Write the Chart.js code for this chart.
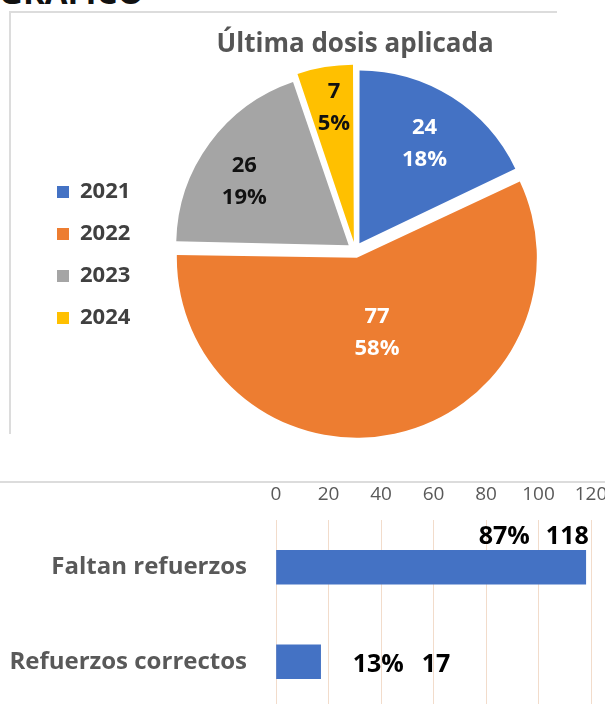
<!DOCTYPE html>
<html><head><meta charset="utf-8">
<script src="https://cdn.jsdelivr.net/npm/chart.js@4.4.1/dist/chart.umd.min.js"></script>
<style>
html,body{margin:0;padding:0;width:605px;height:704px;overflow:hidden;background:#fff;font-family:"Open Sans",sans-serif;}
#hdr{position:absolute;left:-1px;top:-31px;font:bold 33px "Open Sans";color:#111;white-space:nowrap;}
#frame{position:absolute;left:9px;top:11px;width:546px;height:421px;border-left:2px solid #dcdcdc;border-top:2px solid #dcdcdc;}
#pie{position:absolute;left:9px;top:11px;}
#sep{position:absolute;left:0;top:481px;width:605px;height:0;border-top:2px solid #dcdcdc;}
#bar{position:absolute;left:0;top:483px;}
</style></head>
<body>
<div id="hdr">GRÁFICO</div>
<div id="frame"></div>
<canvas id="pie" width="712" height="432"></canvas>
<div id="sep"></div>
<canvas id="bar" width="605" height="226"></canvas>
<script>
// ---- data: pie ----
const years = ['2021', '2022', '2023', '2024'];
const doses = [24, 77, 26, 7];
const dosePct = ['18%', '58%', '19%', '5%'];
// ---- data: bars ----
const groups = ['Faltan refuerzos', 'Refuerzos correctos'];
const counts = [118, 17];
const countPct = ['87%', '13%'];
const xTicks = [0, 20, 40, 60, 80, 100, 120];

// ---- styles ----
const pieColors = ['#4472C4', '#ED7D31', '#A5A5A5', '#FFC000'];
const labelInk = ['#ffffff', '#ffffff', '#111111', '#111111'];
const labelRadius = [0.69, 0.45, 0.71, 0.79];
const labelTurnDeg = [1, -3, -5, 1];
const FONT = '"Open Sans", sans-serif';

const pieLabels = {
  id: 'pieLabels',
  afterDatasetsDraw(chart) {
    const ctx = chart.ctx;
    const meta = chart.getDatasetMeta(0);
    meta.data.forEach((arc, i) => {
      const p = arc.getProps(['x', 'y', 'startAngle', 'endAngle', 'outerRadius'], true);
      const mid = (p.startAngle + p.endAngle) / 2;
      const off = (arc.options.offset || 0) / 4;
      const ox = p.x + Math.cos(mid) * off, oy = p.y + Math.sin(mid) * off;
      const ang = mid + labelTurnDeg[i] * Math.PI / 180;
      const d = p.outerRadius * labelRadius[i];
      const cx = ox + Math.cos(ang) * d, cy = oy + Math.sin(ang) * d;
      ctx.save();
      ctx.font = 'bold 22px ' + FONT;
      ctx.fillStyle = labelInk[i];
      ctx.textAlign = 'center';
      ctx.textBaseline = 'middle';
      ctx.fillText(String(doses[i]), cx, cy - 16);
      ctx.fillText(dosePct[i], cx, cy + 16);
      ctx.restore();
    });
  }
};

new Chart(document.getElementById('pie'), {
  type: 'pie',
  data: {
    labels: years,
    datasets: [{ data: doses, backgroundColor: pieColors, borderWidth: 0, offset: 32, radius: 172 }]
  },
  options: {
    responsive: false, animation: false,
    layout: { padding: { left: 28, right: 151, top: 0, bottom: 1 } },
    plugins: {
      title: {
        display: true, fullSize: false, text: 'Última dosis aplicada', color: '#555555',
        font: { family: FONT, size: 26, weight: 'bold', lineHeight: 1.0 },
        padding: { top: 21, bottom: 0 }
      },
      legend: {
        position: 'left',
        title: { display: true, text: '', font: { size: 1 }, padding: { top: 56, bottom: 0 } },
        labels: {
          boxWidth: 12, boxHeight: 12, padding: 20, color: '#404040',
          font: { family: FONT, size: 22, weight: 'bold' }
        }
      },
      tooltip: { enabled: false }
    }
  },
  plugins: [pieLabels]
});

const barLabels = {
  id: 'barLabels',
  afterDatasetsDraw(chart) {
    const ctx = chart.ctx;
    const meta = chart.getDatasetMeta(0);
    ctx.save();
    ctx.font = 'bold 25px ' + FONT;
    ctx.fillStyle = '#000000';
    ctx.textBaseline = 'middle';
    meta.data.forEach((bar, i) => {
      const p = bar.getProps(['x', 'y', 'height'], true);
      const v = String(counts[i]);
      if (i === 0) {
        ctx.textAlign = 'right';
        const ty = p.y - p.height / 2 - 13;
        const vx = p.x + 3;
        ctx.fillText(v, vx, ty);
        const w = ctx.measureText(v).width;
        ctx.fillText(countPct[i], vx - w - 16, ty);
      } else {
        ctx.textAlign = 'left';
        const ty = p.y + 3;
        const sx = p.x + 32;
        ctx.fillText(countPct[i], sx, ty);
        const w = ctx.measureText(countPct[i]).width;
        ctx.fillText(v, sx + w + 18, ty);
      }
    });
    ctx.restore();
  }
};

new Chart(document.getElementById('bar'), {
  type: 'bar',
  data: {
    labels: groups,
    datasets: [{ data: counts, backgroundColor: '#4472C4', barThickness: 34 }]
  },
  options: {
    indexAxis: 'y',
    responsive: false, animation: false,
    layout: { padding: { left: 0, right: 14, top: 0, bottom: 0 } },
    plugins: { legend: { display: false }, tooltip: { enabled: false } },
    scales: {
      x: {
        position: 'top', min: xTicks[0], max: xTicks[xTicks.length - 1],
        afterBuildTicks: s => { s.ticks = xTicks.map(v => ({ value: v })); },
        afterFit: s => { s.height = 37; s.paddingLeft = 0; s.paddingRight = 0; },
        ticks: { color: '#595959', font: { family: FONT, size: 19 }, padding: 14 },
        grid: { color: '#f2dccb', lineWidth: 1, drawTicks: false },
        border: { display: false }
      },
      y: {
        afterFit: s => { s.width = 276; s.paddingTop = 0; s.paddingBottom = 0; },
        ticks: { color: '#595959', font: { family: FONT, size: 24, weight: 'bold' }, padding: 29 },
        grid: { display: false, drawTicks: false },
        border: { display: false }
      }
    }
  },
  plugins: [barLabels]
});
</script>
</body></html>
